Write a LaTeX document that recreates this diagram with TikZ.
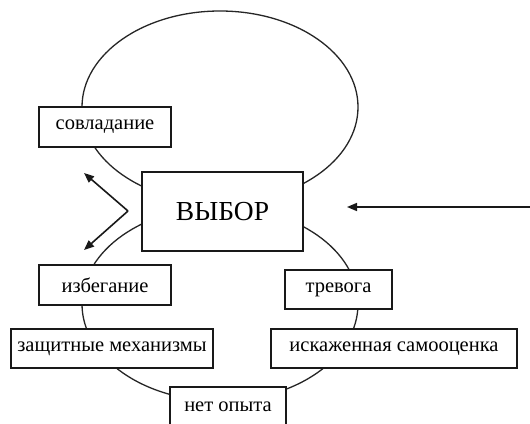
\documentclass[tikz,border=0pt]{standalone}
\usepackage{fontspec}
\setmainfont{Liberation Serif}
\usetikzlibrary{arrows.meta}
\begin{document}
\begin{tikzpicture}[x=1pt,y=-1pt,
  loop/.style={draw=black!85,line width=1.3pt},
  lbl/.style={draw=black!90,fill=white,line width=1.8pt,inner sep=0pt,
    font=\fontsize{20.5}{22}\selectfont,minimum height=40pt},
  big/.style={lbl,font=\fontsize{27.5}{30}\selectfont},
  arr/.style={draw=black!90,line width=1.6pt,-{Triangle[length=10pt,width=8pt]}}]
\useasboundingbox (0,0) rectangle (530,423);
\clip (0,0) rectangle (530,423);
\fill[white] (0,0) rectangle (530,423);
\draw[loop] (220,107) ellipse [x radius=138pt, y radius=96pt];
\draw[loop] (220,304) ellipse [x radius=138pt, y radius=97pt];
\node[big,minimum width=161pt,minimum height=79pt] (vybor) at (222.5,211.5) {ВЫБОР};
\node[lbl,minimum width=132pt] (sovl) at (105,127) {совладание};
\node[lbl,minimum width=132pt] (izb) at (105,285) {избегание};
\node[lbl,minimum width=107pt,minimum height=39pt] (trev) at (338.5,289.5) {тревога};
\node[lbl,minimum width=202pt,minimum height=39pt] (zasch) at (112,348.5) {защитные механизмы};
\node[lbl,minimum width=246pt,minimum height=39pt] (isk) at (394,348.5) {искаженная самооценка};
\node[lbl,minimum width=116pt] (net) at (228,407) {нет опыта};
\coordinate (fork) at (128,211);
\coordinate (upt) at (84,173);
\coordinate (dnt) at (84,250);
\coordinate (ext) at (531,207);
\coordinate (tip) at (347,207);
\draw[arr] (fork) -- (upt);
\draw[arr] (fork) -- (dnt);
\draw[arr] (ext) -- (tip);
\end{tikzpicture}
\end{document}
